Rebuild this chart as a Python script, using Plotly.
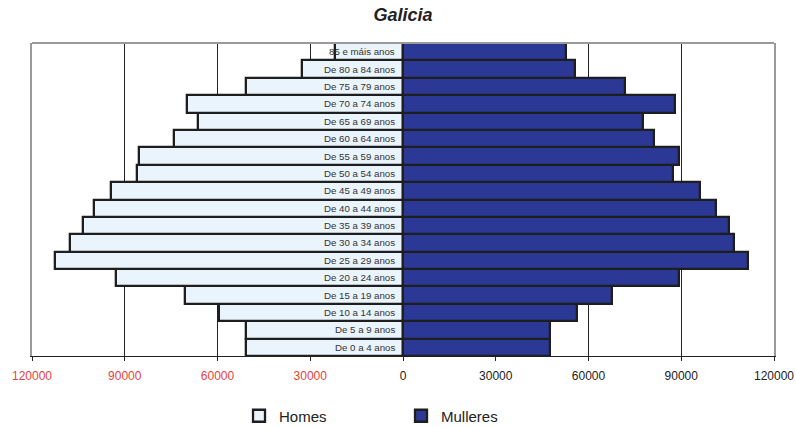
import plotly.graph_objects as go

categories = ["De 0 a 4 anos", "De 5 a 9 anos", "De 10 a 14 anos", "De 15 a 19 anos",
              "De 20 a 24 anos", "De 25 a 29 anos", "De 30 a 34 anos", "De 35 a 39 anos",
              "De 40 a 44 anos", "De 45 a 49 anos", "De 50 a 54 anos", "De 55 a 59 anos",
              "De 60 a 64 anos", "De 65 a 69 anos", "De 70 a 74 anos", "De 75 a 79 anos",
              "De 80 a 84 anos", "85 e máis anos"]
homes = [50700, 50700, 59600, 70500, 92800, 112600, 107800, 103600, 99800, 94500,
         86100, 85500, 74100, 66200, 70000, 50800, 32700, 22000]
mulleres = [47500, 47500, 56300, 67600, 89300, 111700, 107100, 105500, 101200, 96200,
            87300, 89300, 81300, 77600, 88100, 71900, 55500, 52700]
tick_vals = [-120000, -90000, -60000, -30000, 0, 30000, 60000, 90000, 120000]
tick_text = ["120000", "90000", "60000", "30000", "0", "30000", "60000", "90000", "120000"]

RED = "#e8413c"
ticktext_styled = [f'<span style="color:{RED}">{t}</span>' if v < 0 else t
                   for v, t in zip(tick_vals, tick_text)]

fig = go.Figure()
fig.add_trace(go.Bar(
    y=categories, x=[-v for v in homes], orientation="h", name="Homes",
    marker=dict(color="#eaf4fc", line=dict(color="#1e1e1e", width=2.3)),
))
fig.add_trace(go.Bar(
    y=categories, x=mulleres, orientation="h", name="Mulleres",
    marker=dict(color="#2b3896", line=dict(color="#1e1e1e", width=2.3)),
))

for c in categories:
    fig.add_annotation(x=0, y=c, xref="x", yref="y", text=c, showarrow=False,
                       xanchor="right", xshift=-6,
                       font=dict(family="Liberation Sans, Arial", size=9.7, color="#333333"))

fig.add_shape(type="line", xref="paper", yref="paper", x0=0, x1=1, y0=1, y1=1,
              line=dict(color="#999999", width=2))

fig.update_layout(
    width=796, height=427,
    margin=dict(l=32, r=22, t=43, b=71, autoexpand=False),
    paper_bgcolor="white", plot_bgcolor="white",
    barmode="relative", bargap=0,
    title=dict(text="<b><i>Galicia</i></b>", x=0.5, xref="paper", y=1 - 15 / 427,
               yref="container", yanchor="middle",
               font=dict(family="Liberation Sans, Arial", size=18, color="#222222")),
    font=dict(family="Liberation Sans, Arial", size=12, color="#222222"),
    xaxis=dict(range=[-120000, 120000], tickvals=tick_vals, ticktext=ticktext_styled,
               showgrid=True, gridcolor="#222222", gridwidth=1, zeroline=False,
               showline=True, linecolor="#222222", linewidth=1,
               ticks="outside", ticklen=4, tickcolor="#222222", ticklabelstandoff=5,
               automargin=False, tickfont=dict(size=12, color="#222222")),
    yaxis=dict(showticklabels=False, showgrid=False, zeroline=False, automargin=False,
               showline=True, mirror=True, linecolor="#999999", linewidth=2, ticks=""),
    legend=dict(orientation="h", x=0.279, xanchor="left", y=-(416 - 356) / 313, yanchor="middle",
                font=dict(size=15, family="Liberation Sans, Arial", color="#222222"),
                entrywidth=117, traceorder="normal"),
    showlegend=True,
)

fig.write_html("out.html", config={"displayModeBar": False},
               post_script="document.body.style.margin='0';")
